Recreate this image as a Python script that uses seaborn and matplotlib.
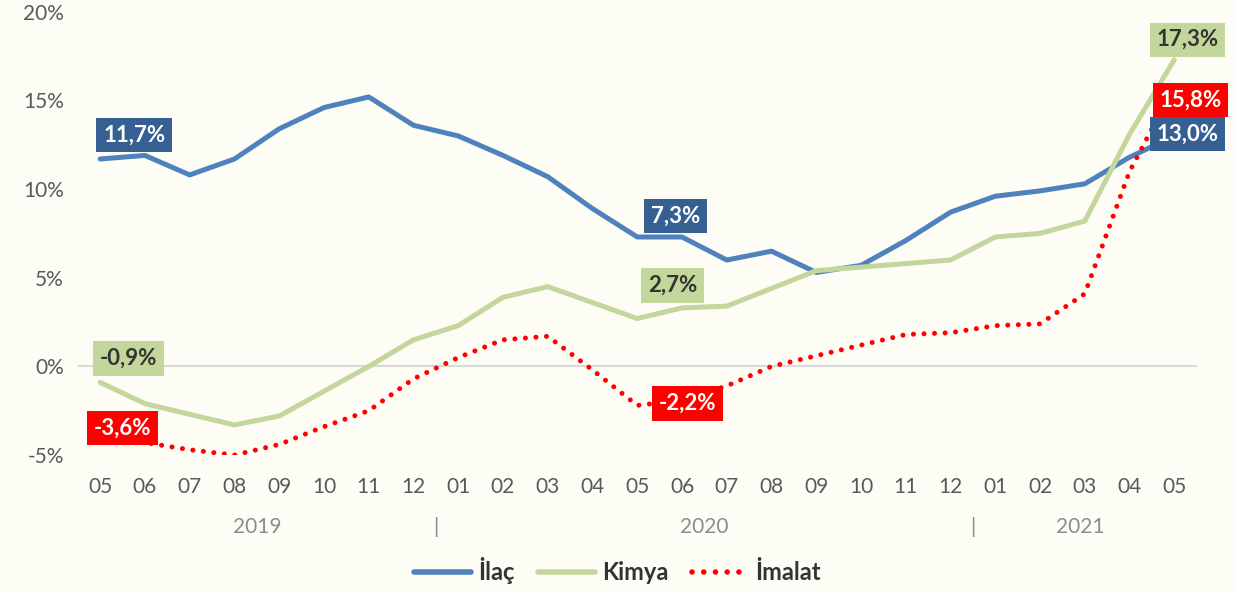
import numpy as np
import pandas as pd
import matplotlib
matplotlib.use("Agg")
import matplotlib.pyplot as plt
import matplotlib.transforms as mtransforms
import seaborn as sns

# month labels 05/2019 .. 05/2021
months = ["05", "06", "07", "08", "09", "10", "11", "12",
          "01", "02", "03", "04", "05", "06", "07", "08", "09", "10", "11", "12",
          "01", "02", "03", "04", "05"]
years = ["2019", "2020", "2021"]

ilac = [11.7, 11.9, 10.8, 11.7, 13.4, 14.6, 15.2, 13.6, 13.0, 11.9, 10.7, 8.9,
        7.3, 7.3, 6.0, 6.5, 5.3, 5.7, 7.1, 8.7, 9.6, 9.9, 10.3, 11.8, 13.0]
kimya = [-0.9, -2.1, -2.7, -3.3, -2.8, -1.4, 0.0, 1.5, 2.3, 3.9, 4.5, 3.6,
         2.7, 3.3, 3.4, 4.4, 5.4, 5.6, 5.8, 6.0, 7.3, 7.5, 8.2, 13.1, 17.3]
imalat = [-3.6, -4.3, -4.7, -5.0, -4.4, -3.4, -2.5, -0.7, 0.5, 1.5, 1.7, -0.2,
          -2.2, -1.9, -1.1, 0.0, 0.6, 1.2, 1.8, 1.9, 2.3, 2.4, 4.1, 11.0, 15.8]

series_names = ["İlaç", "Kimya", "İmalat"]
line_colors = ["#4F81BD", "#C3D69B", "#FF0000"]
box_colors = ["#376092", "#C3D69B", "#FF0000"]
box_text = ["white", "#333333", "white"]

# labelled points: (series index, point index, offset in pixels)
labels = [
    (0, 0, (34, 24)), (1, 0, (28, 24)), (2, 0, (22, 2)),
    (0, 12, (38, 21)), (1, 12, (35, 33)), (2, 12, (50, 2)),
    (1, 24, (13, 20)), (2, 24, (16, -14)), (0, 24, (13, 2)),
]

bg = "#FDFDF6"
sns.set_theme(style="white")
plt.rcParams["font.family"] = ["Lato", "DejaVu Sans"]

fig = plt.figure(figsize=(12.35, 5.91), dpi=100, facecolor=bg)
ax = fig.add_axes([0.063, 0.230, 0.906, 0.750])
ax.set_facecolor(bg)

x = np.arange(len(months))
df = pd.DataFrame({"x": np.tile(x, 3),
                   "value": ilac + kimya + imalat,
                   "seri": np.repeat(series_names, len(months))})

for name, color in zip(series_names, line_colors):
    sub = df[df["seri"] == name]
    if name == "İmalat":
        sns.lineplot(data=sub, x="x", y="value", ax=ax, color=color, lw=3.6,
                     linestyle=(0, (0.01, 2.1)), dash_capstyle="round", label=name)
    else:
        sns.lineplot(data=sub, x="x", y="value", ax=ax, color=color, lw=3.6, label=name)

ax.axhline(0, color="#D9D9D9", lw=1.5, zorder=0)

vals = [ilac, kimya, imalat]
for si, pi, off in labels:
    v = vals[si][pi]
    txt = f"{v:.1f}%".replace(".", ",")
    ax.annotate(txt, (pi, v), xytext=off, textcoords="offset pixels",
                ha="center", va="center", fontsize=16, fontweight="bold",
                color=box_text[si], zorder=5,
                bbox=dict(boxstyle="square,pad=0.3", fc=box_colors[si], ec="none"))

ax.set_xlim(-0.5, len(months) - 0.5)
ax.set_ylim(-5, 20)
ax.set_yticks([-5, 0, 5, 10, 15, 20])
ax.set_yticklabels(["-5%", "0%", "5%", "10%", "15%", "20%"])
ax.set_xticks(x)
ax.set_xticklabels(months)
ax.tick_params(axis="both", length=0, labelsize=15, colors="#595959")
ax.tick_params(axis="x", pad=16)
ax.tick_params(axis="y", pad=10)
ax.set_xlabel("")
ax.set_ylabel("")
for s in ax.spines.values():
    s.set_visible(False)

# year row under month labels
trans = mtransforms.blended_transform_factory(ax.transData, fig.transFigure)
year_pos = [3.5, 13.5, 21.9]
for yp, yr in zip(year_pos, years):
    ax.text(yp, 0.108, yr, transform=trans, ha="center", va="center",
            fontsize=15, color="#8C8C8C")
for sep in [7.5, 19.5]:
    ax.text(sep, 0.108, "|", transform=trans, ha="center", va="center",
            fontsize=15, color="#8C8C8C")

leg = ax.legend(loc="center", bbox_to_anchor=(0.5, 0.034), bbox_transform=fig.transFigure,
                ncol=3, frameon=False, fontsize=17, handlelength=2.4,
                columnspacing=1.0, handletextpad=0.3)
for h in leg.get_lines():
    h.set_linewidth(4)
for t in leg.get_texts():
    t.set_fontweight("bold")
    t.set_color("#333333")

fig.savefig("out.png", dpi=100, facecolor=bg)
